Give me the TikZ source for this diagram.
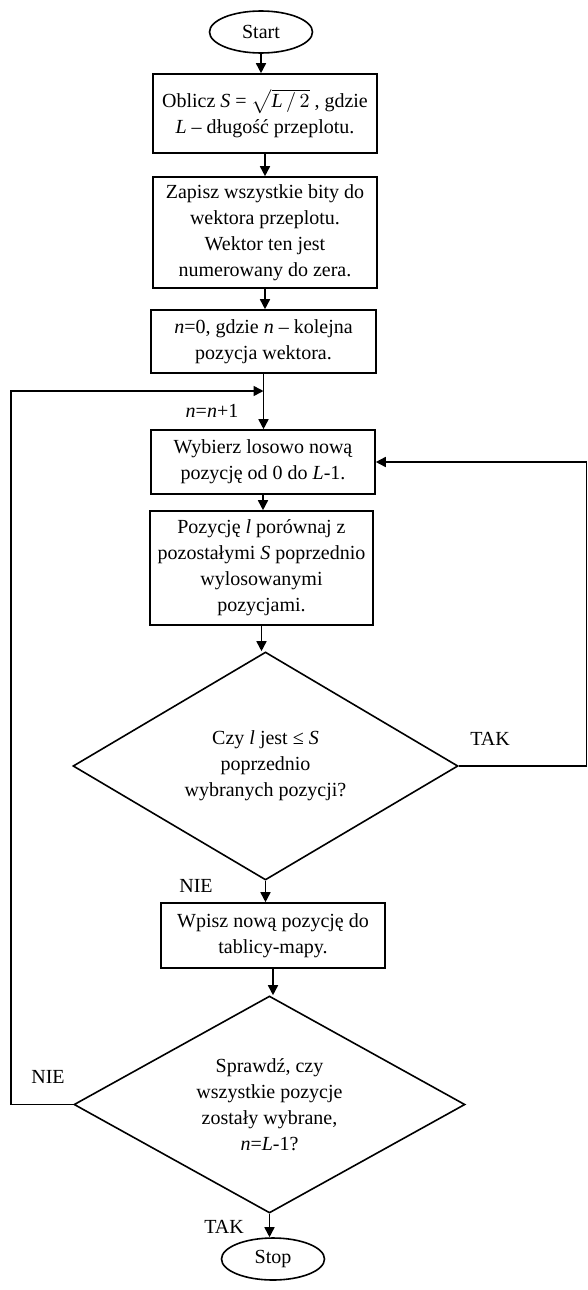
\documentclass[tikz,border=0pt]{standalone}
\usepackage{fontspec}
\setmainfont{Liberation Serif}
\usetikzlibrary{
    arrows.meta,
    positioning,
    shapes.geometric
}
\tikzset{
    % Shapes
    block/.style={draw,line width=.8pt,align=center,inner sep=2pt},
    terminal/.style={draw,ellipse,line width=.8pt,minimum width=51.5pt,minimum height=21pt,inner sep=0pt},
    decision/.style={draw,diamond,line width=.8pt,align=center,inner sep=0pt},
    %
    % Arrows
    arrow tip/.tip={Triangle[length=5pt,width=5pt]},
    arr/.style={->,>={arrow tip},line width=.8pt}
}
\tikzstyle{every node}=[font=\fontsize{10}{13}\selectfont]

\begin{document}
\begin{tikzpicture}[x=.5pt,y=-.5pt]
        \useasboundingbox (0,0) rectangle (588,1290);
        \node[terminal] (start) at (261,32) {Start};
        \node[block,minimum width=112pt,minimum height=39.5pt] (calc) at (265,113.5) {Oblicz \textit{S} = $\sqrt{\textit{L}\,/\,2}$ , gdzie\\ \textit{L} -- długość przeplotu.};
        \node[block,minimum width=112pt,minimum height=55.5pt] (fill) at (265,232.5) {Zapisz wszystkie bity do\\ wektora przeplotu.\\ Wektor ten jest\\ numerowany do zera.};
        \node[block,minimum width=112.5pt,minimum height=31.5pt] (init) at (263.5,341.5) {\textit{n}=0, gdzie \textit{n} -- kolejna\\ pozycja wektora.};
        \node[block,minimum width=112pt,minimum height=32pt] (choose) at (263,462) {Wybierz losowo nową\\ pozycję od 0 do \textit{L}-1.};
        \node[block,minimum width=111.5pt,minimum height=57pt] (compare) at (261.5,568) {Pozycję \textit{l} porównaj z\\ pozostałymi \textit{S} poprzednio\\ wylosowanymi\\ pozycjami.};
        \node[decision,aspect=1.69,minimum width=192.5pt,minimum height=114pt] (test) at (265.5,766) {Czy \textit{l} jest ≤ \textit{S}\\ poprzednio\\ wybranych pozycji?};
        \node[block,minimum width=112pt,minimum height=32.5pt] (store) at (273,935.5) {Wpisz nową pozycję do\\ tablicy-mapy.};
        \node[decision,aspect=1.8,minimum width=195.5pt,minimum height=108.5pt] (check) at (269.5,1104.5) {Sprawdź, czy\\ wszystkie pozycje\\ zostały wybrane,\\ \textit{n}=\textit{L}-1?};
        \node[terminal] (stop) at (273,1259) {Stop};
        % answers
        \node (yes1) at (490,739) {TAK};
        \node (no1) at (196,886) {NIE};
        \node (inc) at (212,411) {\textit{n}=\textit{n}+1};
        \node (no2) at (48,1077) {NIE};
        \node (yes2) at (224,1227) {TAK};
        % main flow
        \draw[arr] (start) -- (start |- calc.north);
        \draw[arr] (calc) -- (calc |- fill.north);
        \draw[arr] (fill) -- (fill |- init.north);
        \draw[arr] (init) -- (init |- choose.north);
        \draw[arr] (choose) -- (choose |- compare.north);
        \draw[arr] (compare) -- (compare |- test.north);
        \draw[arr] (test) -- (test |- store.north);
        \draw[arr] (store) -- (store |- check.north);
        \draw[arr] (check) -- (check |- stop.north);
        % loops
        \coordinate (join) at (263.5,391);
        \coordinate (left) at (11,0);
        \coordinate (right) at (586.5,0);
        \draw[arr] (check.west) -- (check.west -| left) |- (join);
        \draw[arr] (test.east) -- (test.east -| right) |- (choose.east);
    \end{tikzpicture}
\end{document}
